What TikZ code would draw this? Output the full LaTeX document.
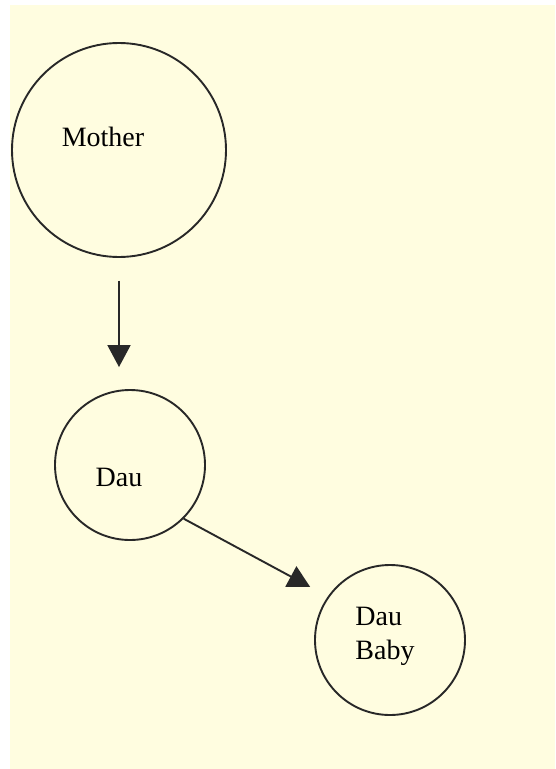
\documentclass[tikz,border=0pt]{standalone}
\usepackage{fontspec}
\setmainfont{Liberation Serif}
\usetikzlibrary{arrows.meta,positioning}
\definecolor{linecol}{RGB}{40,40,40}
\definecolor{paper}{RGB}{255,253,224}
\tikzset{
	person/.style={circle, draw=linecol, line width=1.9pt, inner sep=0pt},
	arr/.style={-{Triangle[length=22pt,width=23pt]}, draw=linecol, fill=black, line width=1.9pt},
}
\begin{document}
\begin{tikzpicture}[x=1pt,y=-1pt,font=\fontsize{28}{34}\selectfont]
			\fill[white] (0,0) rectangle (555,769);
			\fill[paper] (10,5) rectangle (555,769);

			\node(mother) [person, minimum size=214pt, label={[xshift=-16pt,yshift=13pt]center:Mother}] at (119,150) {};
			\node(dau) [person, minimum size=150pt, below of=mother, node distance=315pt, xshift=11pt, label={[xshift=-11pt,yshift=-12pt]center:Dau}] {};
			\node(baby) [person, minimum size=150pt, right of=dau, node distance=260pt, yshift=-175pt, label={[xshift=-5pt,yshift=4pt,align=left]center:Dau\\Baby}] {};

			\draw[arr, shorten <=23pt, shorten >=22pt] (mother.south) -- (mother.south |- dau.north);
			\draw[arr, shorten >=20pt] (dau.-45) -- (baby.145);
		\end{tikzpicture}
\end{document}
